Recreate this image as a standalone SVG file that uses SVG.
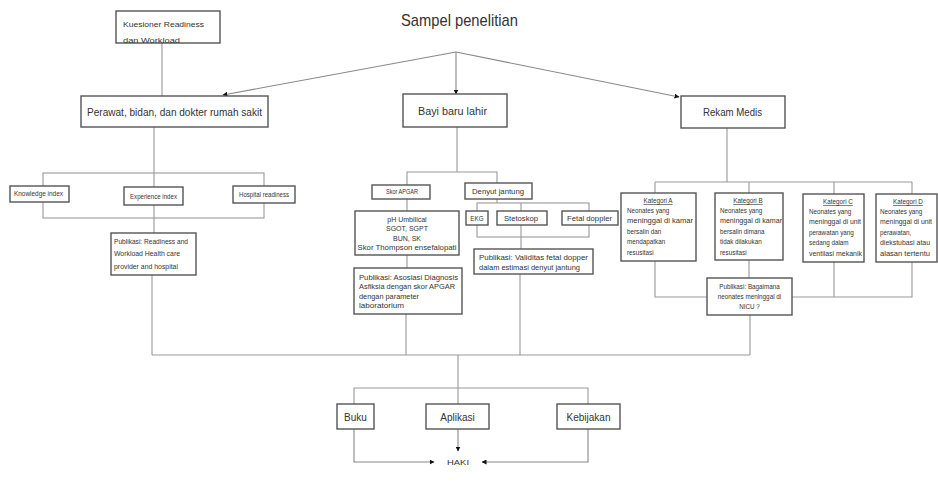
<svg xmlns="http://www.w3.org/2000/svg" width="938" height="485" viewBox="0 0 938 485">
<defs>
<marker id="ah" viewBox="0 0 10 10" refX="9" refY="5" markerWidth="5" markerHeight="5" orient="auto" markerUnits="userSpaceOnUse">
<path d="M0,0 L10,5 L0,10 z" fill="#111"/>
</marker>
<style>
.box{fill:#fff;stroke:#555;stroke-width:1.4}
.ln{fill:none;stroke:#999;stroke-width:1.1}
.ar{fill:none;stroke:#888;stroke-width:1.1;marker-end:url(#ah)}
text{font-family:"Liberation Sans",Arial,sans-serif;fill:#333}
.t10{font-size:10px}
.t8{font-size:8px}
.t7{font-size:7px}
.t6{font-size:6.3px}
.c{text-anchor:middle}
.u{text-decoration:underline}
</style>
</defs>
<rect width="938" height="485" fill="#fff"/>

<text x="401" y="26" style="font-size:17px" textLength="117" lengthAdjust="spacingAndGlyphs">Sampel penelitian</text>

<g id="connectors">
<line class="ln" x1="162" y1="43" x2="162" y2="96"/>
<line class="ar" x1="456" y1="52" x2="223" y2="95"/>
<line class="ar" x1="456" y1="52" x2="456" y2="94"/>
<line class="ar" x1="456" y1="52" x2="679" y2="97"/>
<line class="ln" x1="154" y1="127" x2="154" y2="233"/>
<rect class="ln" x="43" y="173" width="221" height="45"/>
<line class="ln" x1="152" y1="275" x2="152" y2="355"/>
<line class="ln" x1="152" y1="355" x2="750" y2="355"/>
<line class="ln" x1="457" y1="127" x2="457" y2="172"/>
<polyline class="ln" points="407,185 407,172 497,172 497,183"/>
<line class="ln" x1="407" y1="199" x2="407" y2="211"/>
<line class="ln" x1="407" y1="255" x2="407" y2="268"/>
<line class="ln" x1="406" y1="314" x2="406" y2="355"/>
<line class="ln" x1="497" y1="199" x2="497" y2="203"/>
<rect class="ln" x="477" y="203" width="112" height="34"/>
<line class="ln" x1="521" y1="203" x2="521" y2="249"/>
<line class="ln" x1="520" y1="274" x2="520" y2="355"/>
<line class="ln" x1="727" y1="128" x2="727" y2="182"/>
<line class="ln" x1="655" y1="182" x2="912" y2="182"/>
<line class="ln" x1="655" y1="182" x2="655" y2="193"/>
<line class="ln" x1="749" y1="182" x2="749" y2="193"/>
<line class="ln" x1="834" y1="182" x2="834" y2="194"/>
<line class="ln" x1="912" y1="182" x2="912" y2="194"/>
<polyline class="ln" points="655,261 655,297 912,297 912,262"/>
<line class="ln" x1="834" y1="262" x2="834" y2="297"/>
<line class="ln" x1="749" y1="260" x2="749" y2="278"/>
<line class="ln" x1="750" y1="315" x2="750" y2="355"/>
<line class="ln" x1="458" y1="355" x2="458" y2="404"/>
<polyline class="ln" points="354,404 354,388 588,388 588,404"/>
<line class="ar" x1="458" y1="429" x2="458" y2="451"/>
<polyline class="ar" points="354,429 354,462 434,462"/>
<polyline class="ar" points="588,429 588,462 482,462"/>
</g>

<g id="kuesioner">
<rect class="box" x="116" y="11" width="104" height="32"/>
<text class="t8" x="123" y="27" textLength="81" lengthAdjust="spacingAndGlyphs">Kuesioner Readiness</text>
<text class="t8" x="123" y="43" textLength="57" lengthAdjust="spacingAndGlyphs">dan Workload</text>
</g>

<g id="perawat">
<rect class="box" x="81" y="96" width="187" height="31"/>
<text class="t10" x="87" y="115.5" textLength="175" lengthAdjust="spacingAndGlyphs">Perawat, bidan, dan dokter rumah sakit</text>
</g>
<g id="bayi">
<rect class="box" x="403" y="94" width="104" height="33"/>
<text class="t10" x="418" y="114.5" textLength="69" lengthAdjust="spacingAndGlyphs">Bayi baru lahir</text>
</g>
<g id="rekam">
<rect class="box" x="681" y="96" width="104" height="32"/>
<text class="t10" x="703" y="116" textLength="59" lengthAdjust="spacingAndGlyphs">Rekam Medis</text>
</g>

<g id="knowledge">
<rect class="box" x="10" y="186" width="59" height="16"/>
<text class="t6" x="14" y="196" textLength="49" lengthAdjust="spacingAndGlyphs">Knowledge index</text>
</g>
<g id="experience">
<rect class="box" x="124" y="187" width="59" height="18"/>
<text class="t6" x="130" y="199" textLength="47" lengthAdjust="spacingAndGlyphs">Experience index</text>
</g>
<g id="hospital">
<rect class="box" x="233" y="186" width="62" height="17"/>
<text class="t6" x="239" y="197" textLength="50" lengthAdjust="spacingAndGlyphs">Hospital readiness</text>
</g>
<g id="pub-perawat">
<rect class="box" x="111" y="233" width="85" height="42"/>
<text class="t7" x="114" y="244" textLength="74" lengthAdjust="spacingAndGlyphs">Publikasi: Readiness and</text>
<text class="t7" x="114" y="256" textLength="66" lengthAdjust="spacingAndGlyphs">Workload Health care</text>
<text class="t7" x="114" y="269" textLength="64" lengthAdjust="spacingAndGlyphs">provider and hospital</text>
</g>

<g id="apgar">
<rect class="box" x="372" y="185" width="58" height="14"/>
<text class="t6" x="386" y="194" textLength="32" lengthAdjust="spacingAndGlyphs">Skor APGAR</text>
</g>
<g id="denyut">
<rect class="box" x="465" y="183" width="67" height="16"/>
<text class="t6" x="472" y="193.5" textLength="52" lengthAdjust="spacingAndGlyphs">Denyut jantung</text>
</g>
<g id="lab">
<rect class="box" x="355" y="211" width="104" height="44"/>
<text class="t7 c" x="407" y="221.5">pH Umbilical</text>
<text class="t7 c" x="407" y="231">SGOT, SGPT</text>
<text class="t7 c" x="407" y="240.5">BUN, SK</text>
<text class="t7 c" x="407" y="250" textLength="99" lengthAdjust="spacingAndGlyphs">Skor Thompson ensefalopati</text>
</g>
<g id="pub-apgar">
<rect class="box" x="354" y="268" width="108" height="46"/>
<text class="t7" x="359" y="279.5" textLength="99" lengthAdjust="spacingAndGlyphs">Publikasi: Asosiasi Diagnosis</text>
<text class="t7" x="359" y="288.5" textLength="96" lengthAdjust="spacingAndGlyphs">Asfiksia dengan skor APGAR</text>
<text class="t7" x="359" y="298.5" textLength="60" lengthAdjust="spacingAndGlyphs">dengan parameter</text>
<text class="t7" x="359" y="307.5" textLength="45" lengthAdjust="spacingAndGlyphs">laboratorium</text>
</g>
<g id="ekg">
<rect class="box" x="466" y="211" width="22" height="14"/>
<text class="t6 c" x="477" y="220.5">EKG</text>
</g>
<g id="stetoskop">
<rect class="box" x="497" y="211" width="50" height="14"/>
<text class="t6" x="504" y="220.5" textLength="34" lengthAdjust="spacingAndGlyphs">Stetoskop</text>
</g>
<g id="fetal">
<rect class="box" x="562" y="211" width="56" height="14"/>
<text class="t6" x="567" y="220.5" textLength="45" lengthAdjust="spacingAndGlyphs">Fetal doppler</text>
</g>
<g id="pub-fetal">
<rect class="box" x="474" y="249" width="119" height="25"/>
<text class="t7" x="479" y="259.5" textLength="109" lengthAdjust="spacingAndGlyphs">Publikasi: Validitas  fetal dopper</text>
<text class="t7" x="479" y="269.5" textLength="101" lengthAdjust="spacingAndGlyphs">dalam estimasi denyut jantung</text>
</g>

<g id="kat-a">
<rect class="box" x="621" y="193" width="75" height="68"/>
<text class="t6 c u" x="658" y="203">Kategori A</text>
<text class="t6" x="627" y="213">Neonates yang</text>
<text class="t6" x="627" y="223" textLength="66" lengthAdjust="spacingAndGlyphs">meninggal di kamar</text>
<text class="t6" x="627" y="234">bersalin dan</text>
<text class="t6" x="627" y="244">mendapatkan</text>
<text class="t6" x="627" y="255">resusitasi</text>
</g>
<g id="kat-b">
<rect class="box" x="715" y="193" width="68" height="67"/>
<text class="t6 c u" x="748" y="203">Kategori B</text>
<text class="t6" x="720" y="213">Neonates yang</text>
<text class="t6" x="720" y="223" textLength="62" lengthAdjust="spacingAndGlyphs">meninggal di kamar</text>
<text class="t6" x="720" y="234">bersalin dimana</text>
<text class="t6" x="720" y="244">tidak dilakukan</text>
<text class="t6" x="720" y="255">resusitasi</text>
</g>
<g id="kat-c">
<rect class="box" x="803" y="194" width="61" height="68"/>
<text class="t6 c u" x="838" y="204">Kategori C</text>
<text class="t6" x="809" y="214">Neonates yang</text>
<text class="t6" x="809" y="224" textLength="52" lengthAdjust="spacingAndGlyphs">meninggal di unit</text>
<text class="t6" x="809" y="235">perawatan yang</text>
<text class="t6" x="809" y="245">sedang dalam</text>
<text class="t6" x="809" y="256" textLength="53" lengthAdjust="spacingAndGlyphs">ventilasi mekanik</text>
</g>
<g id="kat-d">
<rect class="box" x="876" y="194" width="61" height="68"/>
<text class="t6 c u" x="908" y="204">Kategori D</text>
<text class="t6" x="880" y="214">Neonates yang</text>
<text class="t6" x="880" y="224" textLength="52" lengthAdjust="spacingAndGlyphs">meninggal di unit</text>
<text class="t6" x="880" y="235">perawatan,</text>
<text class="t6" x="880" y="245" textLength="50" lengthAdjust="spacingAndGlyphs">diekstubasi atau</text>
<text class="t6" x="880" y="256" textLength="50" lengthAdjust="spacingAndGlyphs">alasan tertentu</text>
</g>
<g id="pub-nicu">
<rect class="box" x="707" y="278" width="85" height="37"/>
<text class="t6 c" x="749.5" y="288.5">Publikasi: Bagaimana</text>
<text class="t6 c" x="749.5" y="298.5">neonates meninggal di</text>
<text class="t6 c" x="749.5" y="309">NICU ?</text>
</g>

<g id="buku">
<rect class="box" x="337" y="404" width="37" height="25"/>
<text class="t10 c" x="355.5" y="420.5">Buku</text>
</g>
<g id="aplikasi">
<rect class="box" x="426" y="404" width="63" height="25"/>
<text class="t10 c" x="457.5" y="420.5">Aplikasi</text>
</g>
<g id="kebijakan">
<rect class="box" x="557" y="404" width="63" height="25"/>
<text class="t10 c" x="588.5" y="420.5">Kebijakan</text>
</g>
<g id="haki">
<text class="t8" x="447" y="465" textLength="22" lengthAdjust="spacingAndGlyphs">HAKI</text>
</g>
</svg>
